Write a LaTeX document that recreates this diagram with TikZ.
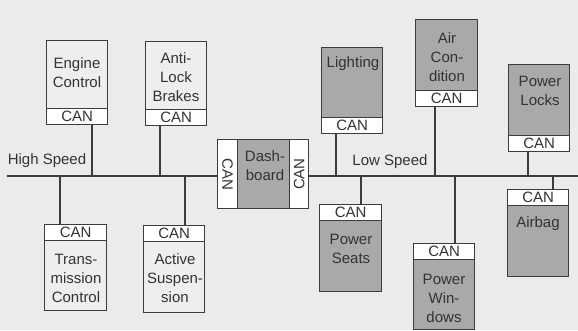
\documentclass[tikz,border=0pt]{standalone}
\usepackage{fontspec}
\setmainfont{Liberation Sans}
\definecolor{bgc}{HTML}{EBEBEB}
\definecolor{litec}{HTML}{EEEEEE}
\definecolor{greyc}{HTML}{A9A9A9}
\definecolor{linec}{HTML}{3C3C3C}
\definecolor{textc}{HTML}{333333}
\begin{document}
\begin{tikzpicture}[x=1pt,y=-1pt,
  every node/.style={font=\fontsize{15}{19}\selectfont, text=textc},
  dev/.style={draw=linec, line width=1.3pt, rectangle, inner sep=0pt, anchor=north west},
  lite/.style={dev, fill=litec},
  dark/.style={dev, fill=greyc},
  canbox/.style={dev, fill=white, minimum height=16pt},
  lbl/.style={align=center, inner sep=0pt},
  stem/.style={draw=linec, line width=1.3pt},
  bus/.style={draw=linec, line width=2.5pt}]
\fill[bgc] (0,0) rectangle (578,330);
\useasboundingbox (0,0) rectangle (578,330);

% bus coordinates
\coordinate (busL) at (7,176);
\coordinate (busR) at (578,176);

% High speed devices (top)
\node[lite, minimum width=61pt, minimum height=68pt] (eng) at (46,40) {};
\node[canbox, minimum width=61pt] (engC) at (46,108) {CAN};
\node[lbl] (engT) at (77,73) {Engine\\Control};

\node[lite, minimum width=61pt, minimum height=68pt] (abs) at (145,41) {};
\node[canbox, minimum width=61pt] (absC) at (145,109) {CAN};
\node[lbl] (absT) at (176,77) {Anti-\\Lock\\Brakes};

% High speed devices (bottom)
\node[canbox, minimum width=62pt] (trC) at (44,224) {CAN};
\node[lite, minimum width=62pt, minimum height=70pt] (tr) at (44,240) {};
\node[lbl] (trT) at (76,278) {Trans-\\mission\\Control};

\node[canbox, minimum width=61pt] (susC) at (143,225) {CAN};
\node[lite, minimum width=61pt, minimum height=71pt] (sus) at (143,241) {};
\node[lbl] (susT) at (175,278) {Active\\Suspen-\\sion};

% Dashboard
\node[dark, minimum width=52pt, minimum height=69pt] (dash) at (237,139) {};
\node[canbox, minimum width=20pt, minimum height=69pt] (dashCL) at (217,139) {};
\node[canbox, minimum width=19pt, minimum height=69pt] (dashCR) at (289,139) {};
\node[lbl, rotate=-90] (dashCLT) at (dashCL.center) {CAN};
\node[lbl, rotate=90] (dashCRT) at (dashCR.center) {CAN};
\node[lbl] (dashT) at (265,165.5) {Dash-\\board};

% Low speed devices (top)
\node[dark, minimum width=61pt, minimum height=70pt] (lig) at (321,47) {};
\node[canbox, minimum width=61pt] (ligC) at (321,117) {CAN};
\node[lbl] (ligT) at (353,64) {Lighting};

\node[dark, minimum width=62pt, minimum height=71pt] (air) at (415,19) {};
\node[canbox, minimum width=62pt] (airC) at (415,90) {CAN};
\node[lbl] (airT) at (447,57) {Air\\Con-\\dition};

\node[dark, minimum width=61pt, minimum height=71pt] (loc) at (508,64) {};
\node[canbox, minimum width=61pt] (locC) at (508,135) {CAN};
\node[lbl] (locT) at (540,91) {Power\\Locks};

% Low speed devices (bottom)
\node[canbox, minimum width=62pt] (seaC) at (319,204) {CAN};
\node[dark, minimum width=62pt, minimum height=71pt] (sea) at (319,220) {};
\node[lbl] (seaT) at (351,249) {Power\\Seats};

\node[canbox, minimum width=61pt] (winC) at (413,243) {CAN};
\node[dark, minimum width=61pt, minimum height=70pt] (win) at (413,259) {};
\node[lbl] (winT) at (444,298) {Power\\Win-\\dows};

\node[canbox, minimum width=61pt] (airbC) at (507,189) {CAN};
\node[dark, minimum width=61pt, minimum height=71pt] (airb) at (507,205) {};
\node[lbl] (airbT) at (538,224) {Airbag};

% bus
\draw[bus] (busL) -- (busL -| dashCL.west);
\draw[bus] (busR -| dashCR.east) -- (busR);

% stem points on bus
\coordinate (s1) at (92,176);
\coordinate (s2) at (160,176);
\coordinate (s3) at (60,176);
\coordinate (s4) at (185,176);
\coordinate (s5) at (336,176);
\coordinate (s6) at (435,176);
\coordinate (s7) at (528,176);
\coordinate (s8) at (361,176);
\coordinate (s9) at (455,176);
\coordinate (s10) at (553,176);

\draw[stem] (s1 |- engC.south) -- (s1);
\draw[stem] (s2 |- absC.south) -- (s2);
\draw[stem] (s3) -- (s3 |- trC.north);
\draw[stem] (s4) -- (s4 |- susC.north);
\draw[stem] (s5 |- ligC.south) -- (s5);
\draw[stem] (s6 |- airC.south) -- (s6);
\draw[stem] (s7 |- locC.south) -- (s7);
\draw[stem] (s8) -- (s8 |- seaC.north);
\draw[stem] (s9) -- (s9 |- winC.north);
\draw[stem] (s10) -- (s10 |- airbC.north);

% labels
\node[lbl] (hs) at (47,161) {High Speed};
\node[lbl] (ls) at (390,162) {Low Speed};
\end{tikzpicture}
\end{document}
